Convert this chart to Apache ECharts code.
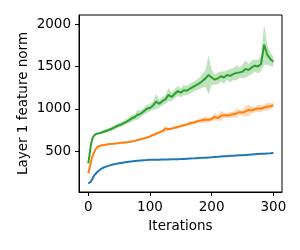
<!DOCTYPE html>
<html>
<head>
<meta charset="utf-8">
<script src="https://cdn.jsdelivr.net/npm/echarts@6/dist/echarts.min.js"></script>
<style>html,body{margin:0;padding:0;background:#fff;}#c{width:300px;height:250px;}</style>
</head>
<body>
<div id="c"></div>
<script>
const iterations = [0,2,4,6,8,10,12,15,20,25,30,35,40,45,50,55,60,65,70,75,80,85,90,95,100,105,110,115,120,125,130,135,140,145,150,155,160,165,170,175,180,185,190,195,200,205,210,215,220,225,230,235,240,245,250,255,260,265,270,275,280,285,290,295,300];
const blueMean = [118,122,135,160,190,215,235,255,285,305,318,330,340,348,355,361,367,372,377,381,385,388,391,393,396,397,398,398,399,400,401,402,403,404,405,407,409,411,413,415,417,419,421,423,425,429,431,435,437,439,443,445,447,449,451,454,457,460,463,465,467,469,471,473,476];
const orangeMean = [236,290,360,420,460,492,520,548,565,570,578,582,585,590,594,598,602,606,612,620,630,640,648,660,672,690,705,720,735,765,758,765,775,785,795,805,815,828,835,848,858,865,872,870,880,905,890,915,925,920,928,935,945,960,955,970,985,980,995,1005,1000,1015,1025,1030,1043];
const orangeSpread = [5,8,8,8,8,8,8,8,8,8,8,8,8,8,8,8,8,8,10,10,10,10,10,12,12,12,15,15,15,40,15,15,15,20,15,20,15,25,20,20,25,30,40,25,25,45,30,60,30,30,35,30,55,30,35,60,70,35,35,40,45,30,50,35,30];
const greenMean = [354,450,560,630,670,690,700,710,715,728,740,755,770,790,805,820,840,860,885,900,930,940,970,1000,1010,1040,1085,1060,1090,1110,1165,1140,1175,1210,1190,1220,1215,1240,1260,1280,1300,1330,1360,1400,1370,1345,1360,1385,1370,1400,1390,1410,1425,1430,1440,1470,1460,1490,1510,1500,1530,1760,1640,1590,1556];
const greenSpread = [5,10,15,15,15,15,15,15,15,20,20,20,25,25,25,30,30,35,40,35,60,40,40,50,40,50,90,45,50,50,80,50,55,60,50,60,55,60,60,60,70,80,100,230,90,60,70,60,70,60,80,70,90,60,80,100,70,80,70,80,90,240,120,80,60];
const xTicks = [0,100,200,300];
const yTicks = [500,1000,1500,2000];

const colors = {blue:'#1f77b4', orange:'#ff7f0e', green:'#2ca02c'};

function pairs(ys){ return iterations.map((x,i)=>[x, ys[i]]); }
function bandSeries(mean, spread, color){
  return {
    type:'custom', silent:true, z:1, clip:true,
    data: pairs(mean),
    encode:{x:0, y:1},
    renderItem: function(params, api){
      if (params.dataIndex !== 0) return null;
      const up = iterations.map((x,i)=>api.coord([x, mean[i]+spread[i]]));
      const lo = iterations.map((x,i)=>api.coord([x, mean[i]-spread[i]])).reverse();
      return {type:'polygon', shape:{points: up.concat(lo)}, style:{fill:color, opacity:0.3}};
    }
  };
}
function lineSeries(mean, color){
  return {type:'line', data: pairs(mean), symbol:'none', lineStyle:{color:color, width:2}, z:3};
}
const fmt = v => String(v);

const chart = echarts.init(document.getElementById('c'));
chart.setOption({
  animation:false,
  grid:{left:79, top:15, right:18, bottom:58, show:true, borderColor:'#000', borderWidth:1, backgroundColor:'transparent'},
  xAxis:{type:'value', min:-15, max:314,
    name:'Iterations', nameLocation:'middle', nameGap:27, nameMoveOverlap:false,
    nameTextStyle:{fontFamily:'DejaVu Sans', fontSize:13.5, color:'#000'},
    axisLine:{show:true, onZero:false, lineStyle:{color:'#000', width:1}},
    axisTick:{show:true, length:4, lineStyle:{color:'#000'}, customValues:xTicks},
    axisLabel:{customValues:xTicks, formatter:fmt, fontFamily:'DejaVu Sans', fontSize:13.5, color:'#000', margin:8},
    splitLine:{show:false}},
  yAxis:{type:'value', min:15, max:2110,
    name:'Layer 1 feature norm', nameLocation:'middle', nameGap:49, nameMoveOverlap:false,
    nameTextStyle:{fontFamily:'DejaVu Sans', fontSize:13.5, color:'#000'},
    axisLine:{show:true, onZero:false, lineStyle:{color:'#000', width:1}},
    axisTick:{show:true, length:4, lineStyle:{color:'#000'}, customValues:yTicks},
    axisLabel:{customValues:yTicks, formatter:fmt, fontFamily:'DejaVu Sans', fontSize:13.5, color:'#000', margin:8},
    splitLine:{show:false}},
  series:[
    lineSeries(blueMean, colors.blue),
    bandSeries(orangeMean, orangeSpread, colors.orange),
    lineSeries(orangeMean, colors.orange),
    bandSeries(greenMean, greenSpread, colors.green),
    lineSeries(greenMean, colors.green)
  ]
});
</script>
</body>
</html>
